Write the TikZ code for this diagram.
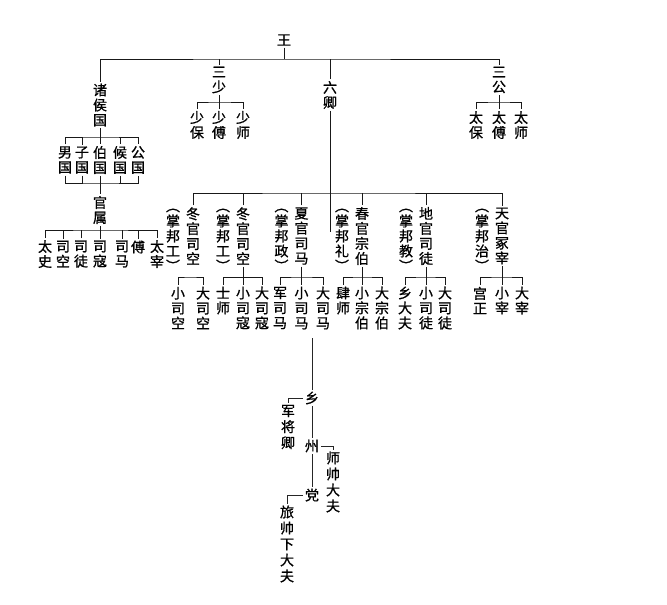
\documentclass[tikz,border=0pt]{standalone}
\usepackage{fontspec}
\usepackage{tikz}
\usetikzlibrary{positioning}
\newfontfamily\cjk{Noto Sans CJK SC}[FakeBold=0.9]
\tikzset{
  rank/.style={font=\cjk\fontsize{14}{15}\selectfont, align=center,
    inner sep=0pt, outer sep=2pt},
  duty/.style={rank, yshift=-4pt},
  lower/.style={rank, font=\cjk\fontsize{14}{16}\selectfont},
  branch/.style={line width=0.9pt, draw=black!90},
  thinbranch/.style={line width=0.7pt, draw=black!85}
}

\begin{document}
\begin{tikzpicture}[x=1pt, y=-1pt]
  \useasboundingbox (0,0) rectangle (667,605);
  % king and the first rank
  \node[rank] (wang) at (284,40) {王};
  \node[rank] (zhuhou) at (100,105) {诸\\侯\\国};
  \node[rank] (sanshao) at (219,80) {三\\少};
  \node[rank] (liuqing) at (330,95) {六\\卿};
  \node[rank] (sangong) at (499,80) {三\\公};
  \node[rank] (shaobao) at (197,125) {少\\保};
  \node[rank] (shaofu) at (219,125) {少\\傅};
  \node[rank] (shaoshi) at (243,125) {少\\师};
  \node[rank] (taibao) at (476,125) {太\\保};
  \node[rank] (taifu) at (499,125) {太\\傅};
  \node[rank] (taishi) at (521,125) {太\\师};
  % the fiefs
  \node[rank] (nanguo) at (65,160) {男\\国};
  \node[rank] (ziguo) at (82,160) {子\\国};
  \node[rank] (boguo) at (100,160) {伯\\国};
  \node[rank] (houguo) at (120,160) {候\\国};
  \node[rank] (gongguo) at (138,160) {公\\国};
  \node[rank] (guanshu) at (100,210) {官\\属};
  \node[rank] (taishiguan) at (45,254) {太\\史};
  \node[rank] (sikong) at (63,254) {司\\空};
  \node[rank] (situ) at (81,254) {司\\徒};
  \node[rank] (sikou) at (100,254) {司\\寇};
  \node[rank] (sima) at (122,254) {司\\马};
  \node[rank] (fu) at (138,247) {傅};
  \node[rank] (taizai) at (157,254) {太\\宰};
  % the six ministers
  \node[rank] (dongA) at (193,236) {冬\\官\\司\\空};
  \node[duty, left=2pt of dongA] (dongAduty) {︵\\掌\\邦\\工\\︶};
  \node[rank] (dongB) at (243,236) {冬\\官\\司\\空};
  \node[duty, left=2pt of dongB] (dongBduty) {︵\\掌\\邦\\工\\︶};
  \node[rank] (xia) at (301.5,236) {夏\\官\\司\\马};
  \node[duty, left=2pt of xia] (xiaduty) {︵\\掌\\邦\\政\\︶};
  \node[rank] (chun) at (362,236) {春\\官\\宗\\伯};
  \node[duty, left=2pt of chun] (chunduty) {︵\\掌\\邦\\礼\\︶};
  \node[rank] (di) at (426,236) {地\\官\\司\\徒};
  \node[duty, left=2pt of di] (diduty) {︵\\掌\\邦\\教\\︶};
  \node[rank] (tian) at (502,236) {天\\官\\冢\\宰};
  \node[duty, left=2pt of tian] (tianduty) {︵\\掌\\邦\\治\\︶};
  % their officers
  \node[rank] (xiaosikong) at (178,308) {小\\司\\空};
  \node[rank] (dasikong) at (203,308) {大\\司\\空};
  \node[rank] (shishi) at (223,300.5) {士\\师};
  \node[rank] (xiaosikou) at (243,308) {小\\司\\寇};
  \node[rank] (dasikou) at (262,308) {大\\司\\寇};
  \node[rank] (junsima) at (280,308) {军\\司\\马};
  \node[rank] (xiaosima) at (301.5,308) {小\\司\\马};
  \node[rank] (dasima) at (323,308) {大\\司\\马};
  \node[rank] (sishi) at (343,300.5) {肆\\师};
  \node[rank] (xiaozongbo) at (362,308) {小\\宗\\伯};
  \node[rank] (dazongbo) at (382,308) {大\\宗\\伯};
  \node[rank] (xiangdafu) at (405,308) {乡\\大\\夫};
  \node[rank] (xiaositu) at (426,308) {小\\司\\徒};
  \node[rank] (dasitu) at (445,308) {大\\司\\徒};
  \node[rank] (gongzheng) at (480,300.5) {宫\\正};
  \node[rank] (xiaozai) at (502,300.5) {小\\宰};
  \node[rank] (dazai) at (522,300.5) {大\\宰};
  % the army chain
  \node[rank] (xiang) at (312,398) {乡};
  \node[lower] (jiangqing) at (288,427) {军\\将\\卿};
  \node[rank] (zhou) at (312,446) {州};
  \node[lower] (shishuai) at (333,482) {师\\帅\\大\\夫};
  \node[rank] (dang) at (312,495) {党};
  \node[lower] (lvshuai) at (287,544) {旅\\帅\\下\\大\\夫};

  \coordinate (topbar) at (284,59);
  \coordinate (shaobar) at (219,102);
  \coordinate (gongbar) at (499,102);
  \coordinate (houbar) at (100,137);
  \coordinate (guobar) at (100,183);
  \coordinate (shubar) at (100,230);
  \coordinate (qingbar) at (330,193);
  \coordinate (qingend) at (330,232);
  \coordinate (dongAbar) at (190,277);
  \coordinate (dongBbar) at (243,277);
  \coordinate (xiabar) at (301.5,277);
  \coordinate (chunbar) at (362,277);
  \coordinate (dibar) at (426,277);
  \coordinate (tianbar) at (502,277);
  \coordinate (drop) at (312,338);

  \draw[branch] (wang.south) -- (topbar);
  \draw[branch] (zhuhou.north) |- (topbar) -| (sangong.north);
  \draw[branch] (sanshao.north) -- (sanshao.north |- topbar)
    (liuqing.north) -- (liuqing.north |- topbar);
  \draw[branch] (sanshao.south) -- (shaofu.north);
  \draw[branch] (shaobao.north) |- (shaobar) -| (shaoshi.north);
  \draw[branch] (sangong.south) -- (taifu.north);
  \draw[branch] (taibao.north) |- (gongbar) -| (taishi.north);

  \draw[branch] (zhuhou.south) -- (boguo.north);
  \draw[branch] (nanguo.north) |- (houbar) -| (gongguo.north);
  \draw[branch] (ziguo.north) -- (ziguo.north |- houbar)
    (houguo.north) -- (houguo.north |- houbar);
  \draw[branch] (boguo.south) -- (guanshu.north);
  \draw[branch] (nanguo.south) |- (guobar) -| (gongguo.south);
  \draw[branch] (ziguo.south) -- (ziguo.south |- guobar)
    (houguo.south) -- (houguo.south |- guobar);
  \draw[branch] (guanshu.south) -- (sikou.north);
  \draw[branch] (taishiguan.north) |- (shubar) -| (taizai.north);
  \draw[branch] (sikong.north) -- (sikong.north |- shubar)
    (situ.north) -- (situ.north |- shubar)
    (sima.north) -- (sima.north |- shubar)
    (fu.north) -- (fu.north |- shubar);

  \draw[branch] (liuqing.south) -- (qingend);
  \draw[branch] (dongA.north) |- (qingbar) -| (tian.north);
  \draw[branch] (dongB.north) -- (dongB.north |- qingbar)
    (xia.north) -- (xia.north |- qingbar)
    (chun.north) -- (chun.north |- qingbar)
    (di.north) -- (di.north |- qingbar);

  \draw[branch] (xiaosikong.north) |- (dongAbar) -| (dasikong.north);
  \draw[branch] (dongB.south) -- (xiaosikou.north);
  \draw[branch] (shishi.north |- dongBbar) -- (shishi.north)
    (shishi.north |- dongBbar) -| (dasikou.north);
  \draw[branch] (xia.south) -- (xiaosima.north);
  \draw[branch] (junsima.north) |- (xiabar) -| (dasima.north);
  \draw[branch] (chun.south) -- (xiaozongbo.north);
  \draw[branch] (sishi.north) |- (chunbar) -| (dazongbo.north);
  \draw[branch] (di.south) -- (xiaositu.north);
  \draw[branch] (xiangdafu.north) |- (dibar) -| (dasitu.north);
  \draw[branch] (tian.south) -- (xiaozai.north);
  \draw[branch] (gongzheng.north) |- (tianbar) -| (dazai.north);

  \draw[thinbranch] (drop) -- (xiang.north);
  \draw[thinbranch] (xiang.west) -| (jiangqing.north);
  \draw[thinbranch] (xiang.south) -- (zhou.north);
  \draw[thinbranch] (zhou.east) -| (shishuai.north);
  \draw[thinbranch] (zhou.south) -- (dang.north);
  \draw[thinbranch] (dang.west) -| (lvshuai.north);
\end{tikzpicture}
\end{document}
